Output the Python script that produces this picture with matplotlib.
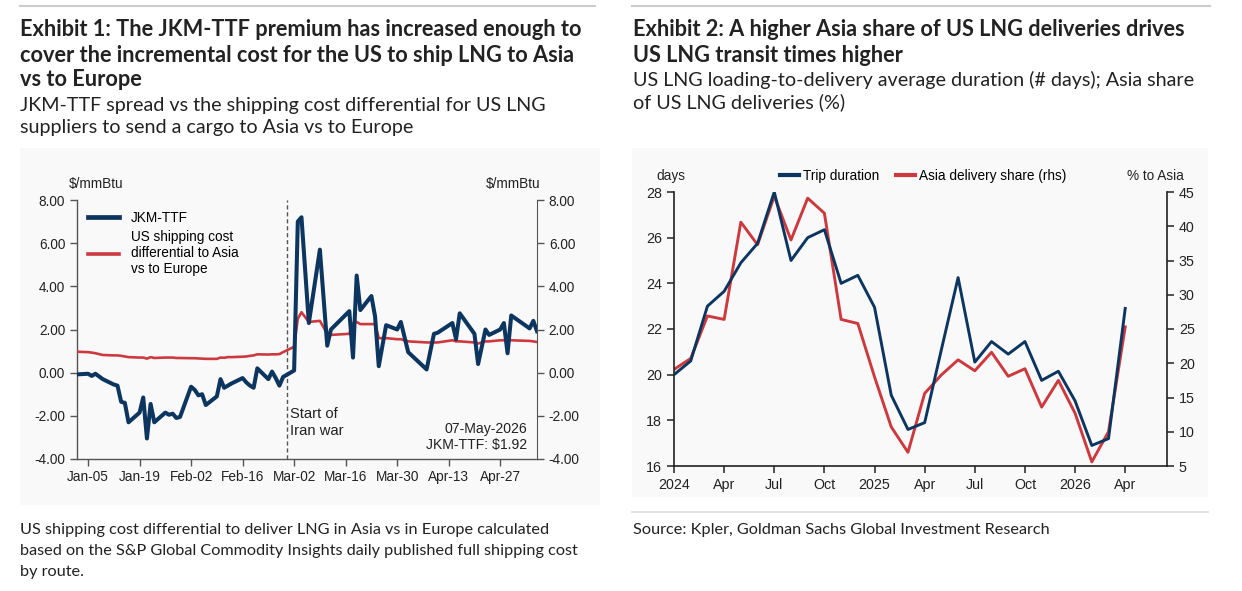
import matplotlib
matplotlib.use('Agg')
import matplotlib.pyplot as plt
import matplotlib.dates as mdates
from matplotlib.patches import Rectangle
from matplotlib.lines import Line2D
from matplotlib.ticker import FuncFormatter
import pandas as pd

# ---------------- Exhibit 1 data ----------------
ex1_dates = [
    "2026-01-02", "2026-01-05", "2026-01-06", "2026-01-07", "2026-01-09",
    "2026-01-12", "2026-01-13", "2026-01-14", "2026-01-15", "2026-01-16",
    "2026-01-19", "2026-01-20", "2026-01-21", "2026-01-22", "2026-01-23",
    "2026-01-26", "2026-01-27", "2026-01-28", "2026-01-29", "2026-01-30",
    "2026-02-02", "2026-02-03", "2026-02-04", "2026-02-05", "2026-02-06",
    "2026-02-09", "2026-02-10", "2026-02-11", "2026-02-12", "2026-02-13",
    "2026-02-16", "2026-02-17", "2026-02-18", "2026-02-19", "2026-02-20",
    "2026-02-23", "2026-02-24", "2026-02-25", "2026-02-26", "2026-02-27",
    "2026-03-02", "2026-03-03", "2026-03-04", "2026-03-06", "2026-03-09",
    "2026-03-11", "2026-03-12", "2026-03-17", "2026-03-18", "2026-03-19",
    "2026-03-20", "2026-03-23", "2026-03-24", "2026-03-25", "2026-03-27",
    "2026-03-30", "2026-03-31", "2026-04-02", "2026-04-07", "2026-04-09",
    "2026-04-10", "2026-04-14", "2026-04-15", "2026-04-16", "2026-04-20",
    "2026-04-21", "2026-04-23", "2026-04-24", "2026-04-27", "2026-04-28",
    "2026-04-29", "2026-04-30", "2026-05-05", "2026-05-06", "2026-05-07",
]
ex1_jkm_ttf = [
    -0.08, -0.05, -0.15, -0.05, -0.30,
    -0.55, -0.60, -1.35, -1.40, -2.30,
    -1.85, -1.15, -3.05, -1.45, -2.30,
    -1.85, -1.95, -1.90, -2.10, -2.05,
    -0.65, -0.80, -1.05, -1.00, -1.50,
    -1.10, -0.30, -0.70, -0.60, -0.50,
    -0.25, -0.45, -0.60, -0.70, 0.20,
    -0.30, 0.05, -0.25, -0.60, -0.20,
    0.10, 7.00, 7.20, 2.30, 5.70,
    1.25, 2.00, 2.85, 0.70, 4.50,
    2.90, 3.55, 2.60, 0.30, 2.20,
    2.00, 2.35, 0.95, 0.15, 1.80,
    1.85, 2.30, 1.55, 2.75, 1.80,
    0.40, 2.00, 1.75, 2.00, 2.30,
    0.90, 2.65, 2.05, 2.40, 1.92,
]
ex1_ship_diff = [
    0.97, 0.95, 0.93, 0.90, 0.82,
    0.80, 0.80, 0.78, 0.75, 0.72,
    0.70, 0.70, 0.65, 0.72, 0.68,
    0.70, 0.70, 0.70, 0.68, 0.68,
    0.67, 0.67, 0.66, 0.65, 0.64,
    0.64, 0.70, 0.69, 0.72, 0.72,
    0.74, 0.75, 0.78, 0.80, 0.85,
    0.84, 0.85, 0.85, 0.86, 0.95,
    1.20, 2.50, 2.80, 2.35, 2.40,
    1.80, 1.75, 1.80, 2.30, 2.35,
    2.25, 2.25, 2.25, 1.60, 1.60,
    1.55, 1.55, 1.45, 1.40, 1.40,
    1.40, 1.50, 1.45, 1.45, 1.40,
    1.35, 1.45, 1.45, 1.50, 1.50,
    1.50, 1.50, 1.47, 1.45, 1.42,
]
ex1_tick_dates = ["2026-01-05", "2026-01-19", "2026-02-02", "2026-02-16", "2026-03-02",
                  "2026-03-16", "2026-03-30", "2026-04-13", "2026-04-27"]
ex1_tick_labels = ["Jan-05", "Jan-19", "Feb-02", "Feb-16", "Mar-02",
                   "Mar-16", "Mar-30", "Apr-13", "Apr-27"]
ex1_war_date = "2026-02-28"
ex1_yticks = [-4, -2, 0, 2, 4, 6, 8]

# ---------------- Exhibit 2 data ----------------
ex2_months = pd.date_range("2024-01-01", "2026-04-01", freq="MS")
ex2_trip_days = [20.0, 20.6, 23.0, 23.65, 24.9, 25.75, 28.0, 25.0, 26.0, 26.35,
                 24.0, 24.35, 22.95, 19.1, 17.6, 17.9, 21.1, 24.25, 20.55, 21.45,
                 20.9, 21.45, 19.75, 20.15, 18.85, 16.9, 17.2, 22.9]
ex2_asia_share = [19.1, 20.7, 26.9, 26.4, 40.6, 37.3, 44.4, 38.0, 44.1, 41.9,
                  26.4, 25.8, 18.0, 10.7, 7.0, 15.6, 18.3, 20.5, 18.9, 21.6,
                  18.1, 19.2, 13.6, 17.5, 12.7, 5.6, 10.0, 25.3]
ex2_tick_labels = ["2024", "Apr", "Jul", "Oct", "2025", "Apr", "Jul", "Oct", "2026", "Apr"]

NAVY = "#0c355f"
RED = "#cc3a3f"
SPINE = "#555555"
PANEL = "#f9f9f9"
TXT = "#222222"

W, H = 1242, 591
fig = plt.figure(figsize=(W / 100, H / 100), dpi=100)
fig.patch.set_facecolor("white")


def fx(px):
    return px / W


def fy(py):
    return 1 - py / H


# panels and rules
fig.patches.append(Rectangle((fx(20), fy(505)), fx(600) - fx(20), fy(148) - fy(505),
                             transform=fig.transFigure, facecolor=PANEL, edgecolor="none", zorder=-10))
fig.patches.append(Rectangle((fx(632), fy(497)), fx(1208) - fx(632), fy(148) - fy(497),
                             transform=fig.transFigure, facecolor=PANEL, edgecolor="none", zorder=-10))
for x0, x1 in [(20, 595), (632, 1210)]:
    fig.lines.append(Line2D([fx(x0), fx(x1)], [fy(6), fy(6)], transform=fig.transFigure,
                            color="#cccccc", lw=1.5, zorder=-10))
fig.lines.append(Line2D([fx(632), fx(1208)], [fy(512), fy(512)], transform=fig.transFigure,
                        color="#dddddd", lw=1.2, zorder=-10))

TFONT = ["Lato", "DejaVu Sans"]
title_kw = dict(fontsize=15.7, fontweight="bold", family=TFONT, color=TXT, va="center", ha="left")
sub_kw = dict(fontsize=14.2, family=TFONT, color=TXT, va="center", ha="left")
note_kw = dict(fontsize=11.7, family=TFONT, color=TXT, va="center", ha="left")

fig.text(fx(20), fy(30), "Exhibit 1: The JKM-TTF premium has increased enough to", **title_kw)
fig.text(fx(20), fy(55), "cover the incremental cost for the US to ship LNG to Asia", **title_kw)
fig.text(fx(20), fy(80), "vs to Europe", **title_kw)
fig.text(fx(20), fy(105), "JKM-TTF spread vs the shipping cost differential for US LNG", **sub_kw)
fig.text(fx(20), fy(128), "suppliers to send a cargo to Asia vs to Europe", **sub_kw)

fig.text(fx(633), fy(30), "Exhibit 2: A higher Asia share of US LNG deliveries drives", **title_kw)
fig.text(fx(633), fy(55), "US LNG transit times higher", **title_kw)
fig.text(fx(633), fy(80), "US LNG loading-to-delivery average duration (# days); Asia share", **sub_kw)
fig.text(fx(633), fy(102), "of US LNG deliveries (%)", **sub_kw)

fig.text(fx(20), fy(530), "US shipping cost differential to deliver LNG in Asia vs in Europe calculated", **note_kw)
fig.text(fx(20), fy(551), "based on the S&P Global Commodity Insights daily published full shipping cost", **note_kw)
fig.text(fx(20), fy(572), "by route.", **note_kw)
fig.text(fx(633), fy(530), "Source: Kpler, Goldman Sachs Global Investment Research", **note_kw)

plt.rcParams["font.family"] = ["Liberation Sans", "DejaVu Sans"]
CF = 9.8

# ---------------- Exhibit 1 chart ----------------
ax1 = fig.add_axes([fx(77), fy(459), fx(537) - fx(77), fy(200) - fy(459)])
ax1.set_facecolor("none")
d1 = pd.to_datetime(ex1_dates)
ax1.plot(d1, ex1_ship_diff, color=RED, lw=1.9, zorder=3, label="US shipping cost\ndifferential to Asia\nvs to Europe")
ax1.plot(d1, ex1_jkm_ttf, color=NAVY, lw=2.9, zorder=4, label="JKM-TTF")
ax1.axvline(pd.Timestamp(ex1_war_date), color="#555555", lw=1.0, ls=(0, (3, 2)), zorder=2)
ax1.set_xlim(pd.Timestamp("2026-01-02"), pd.Timestamp("2026-05-07"))
ax1.set_ylim(-4, 8)
ax1.set_yticks(ex1_yticks)
ax1.yaxis.set_major_formatter(FuncFormatter(lambda v, p: f"{v:.2f}"))
ax1.set_xticks(pd.to_datetime(ex1_tick_dates))
ax1.set_xticklabels(ex1_tick_labels)
for s in ["top", "right"]:
    ax1.spines[s].set_visible(False)
for s in ["left", "bottom"]:
    ax1.spines[s].set_color(SPINE)
    ax1.spines[s].set_linewidth(1.0)
ax1.tick_params(axis="both", direction="out", length=5, width=1.0, color=SPINE, labelsize=CF, labelcolor=TXT)
ax1.tick_params(axis="x", pad=3)

ax1r = ax1.twinx()
ax1r.set_ylim(-4, 8)
ax1r.set_yticks(ex1_yticks)
ax1r.yaxis.set_major_formatter(FuncFormatter(lambda v, p: f"{v:.2f}"))
for s in ["top", "left", "bottom"]:
    ax1r.spines[s].set_visible(False)
ax1r.spines["right"].set_color(SPINE)
ax1r.tick_params(axis="y", direction="out", length=5, width=1.0, color=SPINE, labelsize=CF, labelcolor=TXT)

leg1_h = [Line2D([0], [0], color=NAVY, lw=3.4), Line2D([0], [0], color=RED, lw=2.6)]
ax1.legend(leg1_h, ["JKM-TTF", "US shipping cost\ndifferential to Asia\nvs to Europe"],
           loc="upper left", bbox_to_anchor=(-0.002, 1.005),
           frameon=False, fontsize=CF, handlelength=2.25, handletextpad=0.85, labelspacing=0.35)

fig.text(fx(96), fy(184), "$/mmBtu", fontsize=CF, ha="center", va="center", color=TXT)
fig.text(fx(513), fy(184), "$/mmBtu", fontsize=CF, ha="center", va="center", color=TXT)
ax1.text(pd.Timestamp("2026-03-01"), -2.3, "Start of\nIran war", fontsize=CF + 0.8, color=TXT,
         ha="left", va="center", linespacing=1.25)
ax1.text(0.978, 0.085, "07-May-2026\nJKM-TTF: $1.92", transform=ax1.transAxes, fontsize=CF + 0.3,
         color=TXT, ha="right", va="center", linespacing=1.15)

# ---------------- Exhibit 2 chart ----------------
ax2 = fig.add_axes([fx(674), fy(466), fx(1167) - fx(674), fy(192) - fy(466)])
ax2.set_facecolor("none")
xi = list(range(len(ex2_months)))
ax2r = ax2.twinx()
ax2r.plot(xi, ex2_asia_share, color=RED, lw=2.1, zorder=3)
ax2.plot(xi, ex2_trip_days, color=NAVY, lw=2.1, zorder=4)
ax2.set_zorder(ax2r.get_zorder() + 1)
ax2.patch.set_visible(False)
ax2r.patch.set_visible(False)
ax2.set_xlim(0, 29.5)
ax2.set_ylim(16, 28)
ax2.set_yticks(range(16, 29, 2))
ax2r.set_ylim(5, 45)
ax2r.set_yticks(range(5, 46, 5))
ax2.set_xticks(xi[::3])
ax2.set_xticklabels(ex2_tick_labels)
for a in (ax2, ax2r):
    a.spines["top"].set_visible(False)
ax2.spines["right"].set_visible(False)
ax2r.spines["left"].set_visible(False)
ax2r.spines["bottom"].set_visible(False)
for s in ["left", "bottom"]:
    ax2.spines[s].set_color("#222222")
    ax2.spines[s].set_linewidth(1.2)
ax2r.spines["right"].set_color("#222222")
ax2r.spines["right"].set_linewidth(1.2)
ax2.tick_params(axis="both", direction="out", length=5, width=1.1, color="#222222", labelsize=CF + 0.5, labelcolor=TXT)
ax2r.tick_params(axis="y", direction="out", length=5, width=1.1, color="#222222", labelsize=CF + 0.5, labelcolor=TXT)

leg_h = [Line2D([0], [0], color=NAVY, lw=3), Line2D([0], [0], color=RED, lw=3)]
ax2.legend(leg_h, ["Trip duration", "Asia delivery share (rhs)"], loc="center",
           bbox_to_anchor=(0.505, 1.058), ncol=2, frameon=False, fontsize=CF,
           handlelength=1.4, handletextpad=0.3, columnspacing=1.2)
fig.text(fx(671), fy(176), "days", fontsize=CF, ha="center", va="center", color=TXT)
fig.text(fx(1155), fy(176), "% to Asia", fontsize=CF, ha="center", va="center", color=TXT)

fig.savefig("out.png", dpi=100, facecolor="white")
